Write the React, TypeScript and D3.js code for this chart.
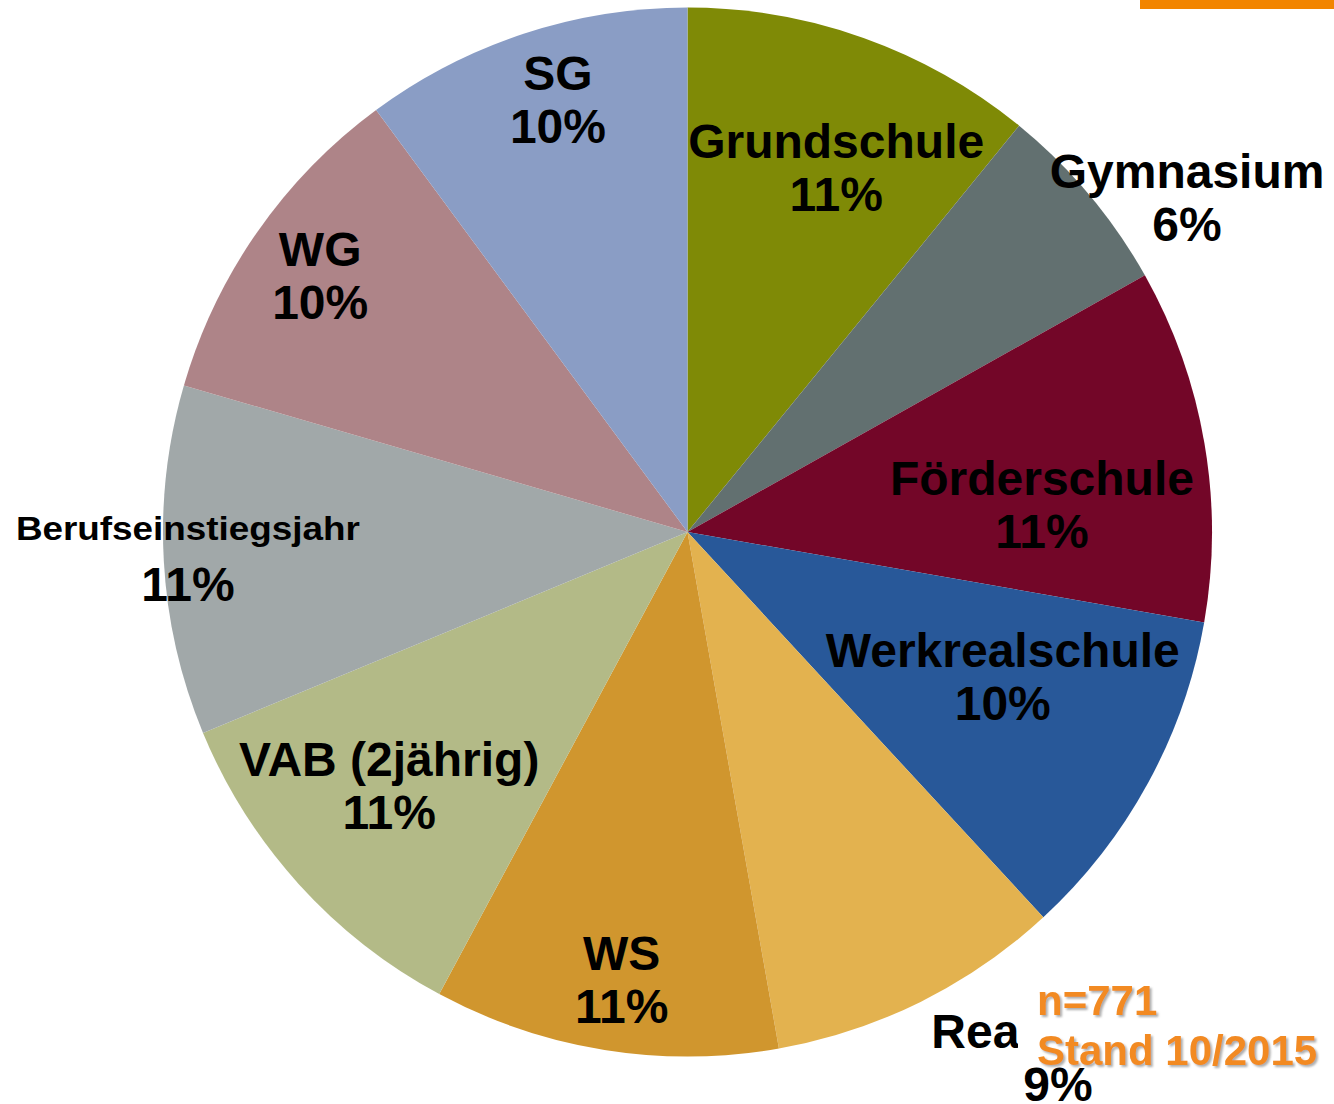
import { useEffect, useRef } from 'react';
import * as d3 from 'd3';

// school types, clockwise from 12 o'clock
const categories = [
  'Grundschule',
  'Gymnasium',
  'Förderschule',
  'Werkrealschule',
  'Realschule',
  'WS',
  'VAB (2jährig)',
  'Berufseinstiegsjahr',
  'WG',
  'SG',
];
const counts = [84, 46, 84, 80, 70, 82, 84, 83, 80, 78];
const colors = [
  '#7f8a06',
  '#627070',
  '#730628',
  '#285899',
  '#e3b24f',
  '#d0962e',
  '#b3ba87',
  '#a1a8a9',
  '#ae8488',
  '#8a9dc5',
];
const noteLines = ['n=', 'Stand 10/2015'];

// label placement: radius as share of the pie radius, angle nudge in degrees
const labelLayout = [
  [0.753, 2.5],
  [1.148, 6.1],
  [0.678, 5.0],
  [0.66, -4.2],
  [1.223, -8.9],
  [0.859, -0.7],
  [0.744, 2.0],
  [0.954, 0.0],
  [0.856, 0.2],
  [0.864, 1.6],
];

const W = 1334;
const H = 1104;

const App = () => {
  const svgRef = useRef(null);

  useEffect(() => {
    const svg = d3.select(svgRef.current);
    svg.selectAll('*').remove();

    const cx = 687.5;
    const cy = 532;
    const R = 524.5;
    const font = '"Liberation Sans", Arial, sans-serif';
    const total = d3.sum(counts);
    const pct = d3.format('.0%');

    const defs = svg.append('defs');
    const f = defs.append('filter').attr('id', 'shadow')
      .attr('x', '-10%').attr('y', '-20%').attr('width', '130%').attr('height', '150%');
    f.append('feDropShadow')
      .attr('dx', 2).attr('dy', 2).attr('stdDeviation', 1.2)
      .attr('flood-color', '#777').attr('flood-opacity', 0.6);

    // orange bar top right
    svg.append('rect')
      .attr('x', 1140).attr('y', 0).attr('width', W - 1140).attr('height', 9)
      .attr('fill', '#f28500');

    const pie = d3.pie().value(d => d).sort(null);
    const arcs = pie(counts);
    const arc = d3.arc().innerRadius(0).outerRadius(R);

    const g = svg.append('g').attr('transform', `translate(${cx},${cy})`);

    g.selectAll('path')
      .data(arcs)
      .enter()
      .append('path')
      .attr('d', arc)
      .attr('fill', (d, i) => colors[i]);

    const labels = g.selectAll('text.lbl')
      .data(arcs)
      .enter()
      .append('text')
      .attr('class', 'lbl')
      .attr('font-family', font)
      .attr('font-weight', 'bold')
      .attr('font-size', 48)
      .attr('text-anchor', 'middle')
      .attr('fill', '#000')
      .attr('transform', (d, i) => {
        const [rf, da] = labelLayout[i];
        const a = (d.startAngle + d.endAngle) / 2 + (da * Math.PI) / 180;
        const r = rf * R;
        return `translate(${r * Math.sin(a)},${-r * Math.cos(a)})`;
      });

    labels.append('tspan')
      .attr('x', 0)
      .attr('y', (d, i) => (i === 7 ? -20 : -8))
      .attr('font-size', (d, i) => (i === 7 ? 34 : 48))
      .attr('textLength', (d, i) => (i === 7 ? 344 : null))
      .attr('lengthAdjust', 'spacingAndGlyphs')
      .text((d, i) => categories[i]);

    labels.append('tspan')
      .attr('x', 0)
      .attr('y', (d, i) => (i === 7 ? 41 : 45))
      .text(d => pct(d.data / total));

    // note box (white, covers part of the Realschule label)
    svg.append('rect')
      .attr('x', 1018).attr('y', 978).attr('width', W - 1018).attr('height', 88)
      .attr('fill', '#fff');

    const note = svg.append('text')
      .attr('font-family', font)
      .attr('font-weight', 'bold')
      .attr('font-size', 42)
      .attr('fill', '#f28a22')
      .attr('filter', 'url(#shadow)');
    note.append('tspan').attr('x', 1037).attr('y', 1015).text(noteLines[0] + total);
    note.append('tspan').attr('x', 1037).attr('y', 1065).text(noteLines[1]);
  }, []);

  return (
    <svg
      ref={svgRef}
      width={W}
      height={H}
      style={{ position: 'absolute', left: 0, top: 0, background: '#fff' }}
    ></svg>
  );
};

export default App;
